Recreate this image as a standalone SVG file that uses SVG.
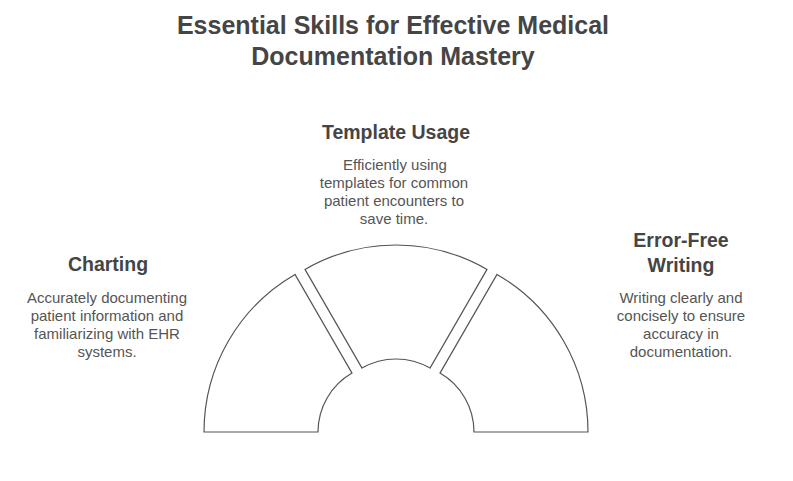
<svg xmlns="http://www.w3.org/2000/svg" width="793" height="481" viewBox="0 0 793 481">
<style>
.seg{fill:#ffffff;stroke:#555555;stroke-width:1.2;stroke-linejoin:miter}
.title{font-family:"Liberation Sans",Arial,sans-serif;font-weight:bold;font-size:25px;fill:#454545;text-anchor:middle}
.head{font-family:"Liberation Sans",Arial,sans-serif;font-weight:bold;font-size:19.5px;fill:#454545;text-anchor:middle}
.body{font-family:"Liberation Sans",Arial,sans-serif;font-size:15px;fill:#555555;text-anchor:middle}
</style>
<rect width="793" height="481" fill="#ffffff"/>
<g id="title">
<text class="title" x="393" y="34">Essential Skills for Effective Medical</text>
<text class="title" x="393" y="65">Documentation Mastery</text>
</g>
<g id="node-charting">
<path class="seg" d="M204,432 A182,182 0 0 1 295,274.4 L352,373.1 A68,68 0 0 0 318,432 Z"/>
<text class="head" x="108" y="271">Charting</text>
<text class="body" x="107" y="302.5">Accurately documenting</text>
<text class="body" x="107" y="320.5">patient information and</text>
<text class="body" x="107" y="338.5">familiarizing with EHR</text>
<text class="body" x="107" y="356.5">systems.</text>
</g>
<g id="node-template">
<path class="seg" d="M305,269.4 A182,182 0 0 1 487,269.4 L430,368.1 A68,68 0 0 0 362,368.1 Z"/>
<text class="head" x="396" y="139">Template Usage</text>
<text class="body" x="395" y="169.5">Efficiently using</text>
<text class="body" x="394" y="187.5">templates for common</text>
<text class="body" x="394" y="205.5">patient encounters to</text>
<text class="body" x="394" y="223.5">save time.</text>
</g>
<g id="node-errorfree">
<path class="seg" d="M588,432 A182,182 0 0 0 497,274.4 L440,373.1 A68,68 0 0 1 474,432 Z"/>
<text class="head" x="681" y="247">Error-Free</text>
<text class="head" x="681" y="271.5">Writing</text>
<text class="body" x="681" y="302.5">Writing clearly and</text>
<text class="body" x="681" y="320.5">concisely to ensure</text>
<text class="body" x="681" y="338.5">accuracy in</text>
<text class="body" x="681" y="356.5">documentation.</text>
</g>
<g id="connectors"></g>
</svg>
